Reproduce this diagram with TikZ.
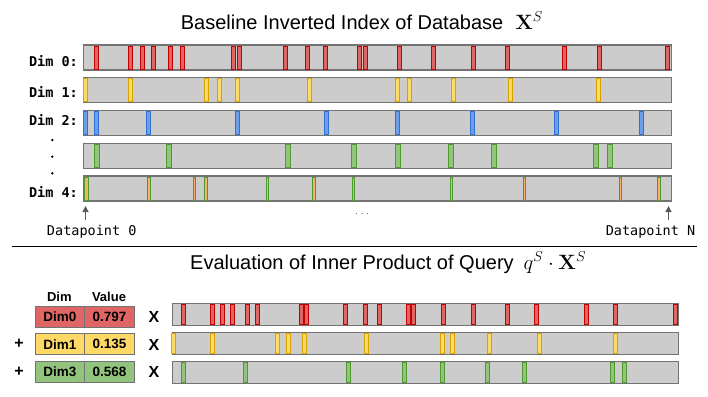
\documentclass[tikz,border=0pt]{standalone}
\usepackage[no-math]{fontspec}
\setmainfont{Liberation Sans}
\newfontfamily\dimfont{DejaVu Sans Mono}
\usetikzlibrary{arrows.meta,positioning}

\definecolor{barbg}{HTML}{CCCCCC}
\definecolor{rowedge}{HTML}{737373}
\definecolor{redfill}{HTML}{E06666}
\definecolor{reddraw}{HTML}{C00000}
\definecolor{yelfill}{HTML}{FFD966}
\definecolor{yeldraw}{HTML}{D8A300}
\definecolor{bluefill}{HTML}{6D9EEB}
\definecolor{bluedraw}{HTML}{2F6FD6}
\definecolor{grnfill}{HTML}{93C47D}
\definecolor{grndraw}{HTML}{4E9A2E}
\definecolor{orgfill}{HTML}{F6B26B}

\begin{document}
\begin{tikzpicture}[
  x=1pt,y=-1pt,
  >={Triangle[length=6pt,width=6pt]},
  every node/.style={inner sep=0pt},
  row/.style={draw=rowedge,line width=1.3pt,fill=barbg,minimum width=588pt,minimum height=25pt,anchor=west},
  qrow/.style={row,minimum width=506pt,minimum height=22pt},
  redtick/.style={draw=reddraw,fill=redfill,line width=0.8pt},
  yeltick/.style={draw=yeldraw,fill=yelfill,line width=0.8pt},
  bluetick/.style={draw=bluedraw,fill=bluefill,line width=0.8pt},
  grntick/.style={draw=grndraw,fill=grnfill,line width=0.8pt},
  mixtick/.style={draw=grndraw,fill=orgfill,line width=0.7pt},
  dimlbl/.style={anchor=east,font=\dimfont\bfseries\fontsize{13.5}{15}\selectfont},
  dplbl/.style={anchor=base,font=\dimfont\fontsize{13.5}{16}\selectfont},
  ttl/.style={anchor=base west,font=\fontsize{20}{24}\selectfont},
  cell/.style={draw=rowedge,line width=1pt,minimum width=50pt,minimum height=21pt,font=\bfseries\fontsize{13.5}{15}\selectfont},
  hdr/.style={font=\bfseries\fontsize{13}{14}\selectfont},
  op/.style={font=\bfseries\fontsize{16}{18}\selectfont},
  ptr/.style={->,draw=black!65,line width=1.3pt}
]
\useasboundingbox (0,0) rectangle (708,396);

% index of the database
\node[ttl] (title1) at (180.7,29.3) {Baseline Inverted Index of Database\hspace{12pt}$\mathbf{X}^S$};

\node[row] (dim0) at (83,57.5) {};
\node[row] (dim1) at (83,90) {};
\node[row] (dim2) at (83,123) {};
\node[row] (dim3) at (83,156) {};
\node[row] (dim4) at (83,188.5) {};

\foreach \x in {96.3,130.7,142.3,153.3,170.7,182.3,233.3,239.3,285,307.3,325,359.3,365,399.3,433.3,473.3,507.3,564.7,599,667.3}
  \draw[redtick] (\x-2,46) rectangle (\x+2,69);
\foreach \x in {85.3,130.7,206,219.7,237.3,309.3,397.7,409,453,510.3,598.3}
  \draw[yeltick] (\x-2,78.5) rectangle (\x+2,101.5);
\foreach \x in {85.3,96.3,148,237.3,326.7,397.3,472.3,556.7,641.3}
  \draw[bluetick] (\x-2,111.5) rectangle (\x+2,134.5);
\foreach \x in {97.3,169,288,354,397.7,451.3,494.3,595.7,610}
  \draw[grntick] (\x-2.5,144.5) rectangle (\x+2.5,167.5);
\draw[mixtick] (84.2,177) rectangle (88.2,200);
\foreach \x in {148.7,194.3,206,267.3,314,353.3,451.3,524.3,620.3,659}
  \draw[mixtick] (\x-1.3,177) rectangle (\x+1.3,200);

\node[dimlbl] (l0) at (78,60.7) {Dim 0:};
\node[dimlbl] (l1) at (78,91.7) {Dim 1:};
\node[dimlbl] (l2) at (78,120) {Dim 2:};
\node[dimlbl] (l4) at (78,191.7) {Dim 4:};
\foreach \y in {140,156.7,173.3}
  \fill (52.3,\y) circle (1.3);

\coordinate (a0) at (85.5,219.5);
\coordinate (a0tip) at (85.5,206);
\coordinate (aN) at (668.5,219.5);
\coordinate (aNtip) at (668.5,206);
\draw[ptr] (a0) -- (a0tip);
\draw[ptr] (aN) -- (aNtip);
\node[dplbl] (dp0) at (91.7,235.3) {Datapoint 0};
\node[dplbl] (dpN) at (650.5,235.3) {Datapoint N};
\node[font=\fontsize{9}{10}\selectfont,text=black!70] (more) at (362,214) {.\hspace{3pt}.\hspace{3pt}.};

\draw[line width=1.2pt] (12,246.7) -- (697,246.7);

% inner product with the query
\node[ttl] (title2) at (190,269.5) {Evaluation of Inner Product of Query\hspace{10pt}$q^S\cdot\mathbf{X}^S$};

\node[hdr] (hdim) at (59.3,296.7) {Dim};
\node[hdr] (hval) at (109,296.7) {Value};
\node[cell,fill=redfill] (c0) at (60,317) {Dim0};
\node[cell,fill=redfill] (v0) at (109.5,317) {0.797};
\node[cell,fill=yelfill] (c1) at (60,344.3) {Dim1};
\node[cell,fill=yelfill] (v1) at (109.5,344.3) {0.135};
\node[cell,fill=grnfill] (c3) at (60,371.7) {Dim3};
\node[cell,fill=grnfill] (v3) at (109.5,371.7) {0.568};
\node[op] (p1) at (19,344.3) {+};
\node[op] (p3) at (19,372.3) {+};
\node[op] (x0) at (154,317) {X};
\node[op] (x1) at (154,345.3) {X};
\node[op] (x3) at (154,372.3) {X};

\node[qrow] (q0) at (171.7,314.7) {};
\node[qrow] (q1) at (171.7,343.2) {};
\node[qrow] (q3) at (171.7,372.6) {};
\foreach \x in {183.3,212.7,222.7,232,247.3,257,301.7,306,345.7,365,379.7,408.7,413.7,443.3,473,507,536.7,586,615.7,675}
  \draw[redtick] (\x-2,304.7) rectangle (\x+2,324.7);
\foreach \x in {173.5,212.7,277.3,288.7,304.3,366,442.3,452.3,489.3,539.3,615.3}
  \draw[yeltick] (\x-2,333.2) rectangle (\x+2,353.2);
\foreach \x in {183.7,245.7,348,404.7,442.3,487.7,524.7,612.7,624.7}
  \draw[grntick] (\x-2,362.6) rectangle (\x+2,382.6);
\end{tikzpicture}
\end{document}
